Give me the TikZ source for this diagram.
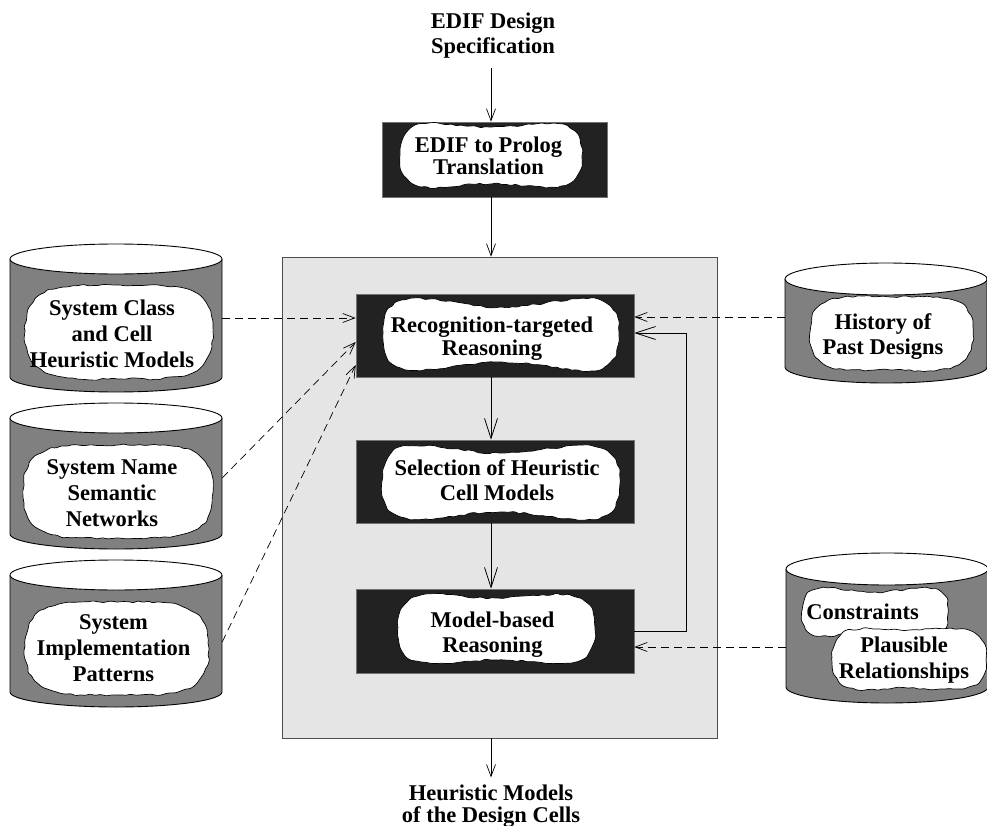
\documentclass[tikz,border=0pt]{standalone}
\usepackage{fontspec}
\setmainfont{Liberation Serif}
\usetikzlibrary{arrows.meta,decorations.pathmorphing,calc}
\definecolor{boxfill}{HTML}{222222}
\definecolor{panelfill}{HTML}{E5E5E5}
\definecolor{cylfill}{HTML}{808080}
\newcommand{\blob}[4]{%
  \pgfmathsetmacro{\bxm}{(#1+#3)/2}%
  \pgfmathsetmacro{\bym}{(#2+#4)/2}%
  \draw[blobline] (#1,\bym) to[out=90,in=180,looseness=1.25] (\bxm,#2)
    to[out=0,in=90,looseness=1.25] (#3,\bym)
    to[out=-90,in=0,looseness=1.25] (\bxm,#4)
    to[out=180,in=-90,looseness=1.25] (#1,\bym) -- cycle;}
\newcommand{\cylshape}[5]{% x1 x2 ytop ybot ry
  \pgfmathsetmacro{\rxx}{(#2-#1)/2}%
  \pgfmathsetmacro{\cxx}{(#2+#1)/2}%
  \fill[cylfill] (#1,#3) -- (#1,#4) arc[start angle=180,end angle=360,x radius=\rxx pt,y radius=#5pt] -- (#2,#3) -- cycle;
  \draw[line width=0.9pt] (#1,#3) -- (#1,#4) arc[start angle=180,end angle=360,x radius=\rxx pt,y radius=#5pt] -- (#2,#3);
  \draw[line width=0.9pt,fill=white] (\cxx,#3) ellipse[x radius=\rxx pt,y radius=#5pt];}
\begin{document}
\pgfmathsetseed{11}
\setlength{\lineskiplimit}{-20pt}
\begin{tikzpicture}[x=1pt,y=-1pt,
  lbl/.style={font=\fontsize{22.5}{#1}\selectfont\bfseries, align=center, inner sep=0pt},
  lbl/.default=25,
  darkbox/.style={draw=black!55, fill=boxfill, line width=0.6pt, inner sep=0pt},
  blobline/.style={draw=black, fill=white, line width=0.7pt, decorate,
    decoration={random steps, segment length=5pt, amplitude=1.1pt}, rounded corners=1.2pt},
  hidden/.style={inner sep=0pt},
  solidarrow/.style={line width=0.8pt, -{Straight Barb[length=20pt,width=13pt,line width=0.8pt]}},
  outarrow/.style={line width=0.7pt, -{Straight Barb[length=12pt,width=9pt,line width=0.7pt]}},
  dasharrow/.style={line width=0.7pt, dash pattern=on 8pt off 5pt, -{Straight Barb[length=12pt,width=9pt,line width=0.7pt]}}
]
\useasboundingbox (0,0) rectangle (987,826);
\coordinate (axis) at (491,0);
\coordinate (fbx) at (686,0);

% panel
\node[draw=black!70, fill=panelfill, line width=0.7pt, minimum width=435pt, minimum height=481pt, inner sep=0pt] (panel) at (499.5,497.5) {};

% top and bottom texts
\node[lbl=25] (spec) at (493,35.4) {EDIF Design\\Specification};
\node[lbl=22] (result) at (491,805.9) {Heuristic Models\\of the Design Cells};

% EDIF box
\node[darkbox, minimum width=225pt, minimum height=75pt] (edif) at (494.5,159.5) {};
\blob{400}{127}{582}{184}
\node[lbl=21.5] (edift) at (488.5,156) {EDIF to Prolog\\Translation};

% inner boxes
\node[darkbox, minimum width=278pt, minimum height=83pt] (rec) at (495,335.5) {};
\blob{383}{307}{619}{362}
\node[lbl=23] (rect) at (492,338.4) {Recognition-targeted\\Reasoning};

\node[darkbox, minimum width=278pt, minimum height=83pt] (sel) at (495,481.5) {};
\blob{382}{453}{620}{512}
\node[lbl=25] (selt) at (497,480) {Selection of Heuristic\\Cell Models};

\node[darkbox, minimum width=278pt, minimum height=84pt] (mod) at (495,631) {};
\blob{398}{598}{595}{660}
\node[lbl=25] (modt) at (492.5,634.4) {Model-based\\Reasoning};

% left cylinders
\cylshape{10}{222}{259}{377}{15}
\node[hidden, minimum width=212pt, minimum height=118pt] (c1) at (116,318) {};
\blob{25}{285}{213}{379}
\node[lbl=26] (c1t) at (112,333.5) {System Class\\and Cell\\Heuristic Models};

\cylshape{10}{222}{418}{534}{15}
\node[hidden, minimum width=212pt, minimum height=116pt] (c2) at (116,478) {};
\blob{23}{445}{213}{538}
\node[lbl=26] (c2t) at (112,493.5) {System Name\\Semantic\\Networks};

\cylshape{10}{222}{575}{692}{15}
\node[hidden, minimum width=212pt, minimum height=134pt] (c3) at (116,642) {};
\blob{25}{602}{209}{695}
\node[lbl=26] (c3t) at (113.5,648.5) {System\\Implementation\\Patterns};

% right cylinders
\cylshape{785}{987}{279}{367}{16}
\node[hidden, minimum width=202pt, minimum height=76pt] (hist) at (886,317) {};
\blob{810}{297}{973}{370}
\node[lbl=25] (histt) at (883,336.4) {History of\\Past Designs};

\cylshape{786}{988}{569}{687}{16}
\node[hidden, minimum width=202pt, minimum height=118pt] (cons) at (887,647) {};
\blob{802}{592}{948}{632}
\node[lbl=25] (const) at (862.5,611.5) {Constraints};
\blob{832}{630}{986}{688}
\node[lbl=26] (plaust) at (904,659.9) {Plausible\\Relationships};

% solid connectors
\coordinate (specfoot) at ([yshift=-10pt]spec.south -| axis);
\coordinate (resulthead) at ([yshift=7pt]result.north -| axis);
\coordinate (recE) at ([yshift=2.5pt]rec.east);
\draw[outarrow] (specfoot) -- (edif.north -| axis);
\draw[outarrow] (edif.south -| axis) -- (panel.north -| axis);
\draw[solidarrow] (rec.south -| axis) -- (sel.north -| axis);
\draw[solidarrow] (sel.south -| axis) -- (mod.north -| axis);
\draw[outarrow] (panel.south -| axis) -- (resulthead);
\draw[solidarrow] (mod.east) -- (mod.east -| fbx) -- (fbx |- recE) -- (recE);

% dashed connectors
\draw[dasharrow] (c1.east) -- (rec.west |- c1.east);
\draw[dasharrow] (c2.east) -- ([yshift=-6.5pt]rec.west);
\draw[dasharrow] (c3.east) -- ([yshift=-29.5pt]rec.west);
\draw[dasharrow] (hist.west) -- (rec.east |- hist.west);
\draw[dasharrow] (cons.west) -- (mod.east |- cons.west);
\end{tikzpicture}
\end{document}
